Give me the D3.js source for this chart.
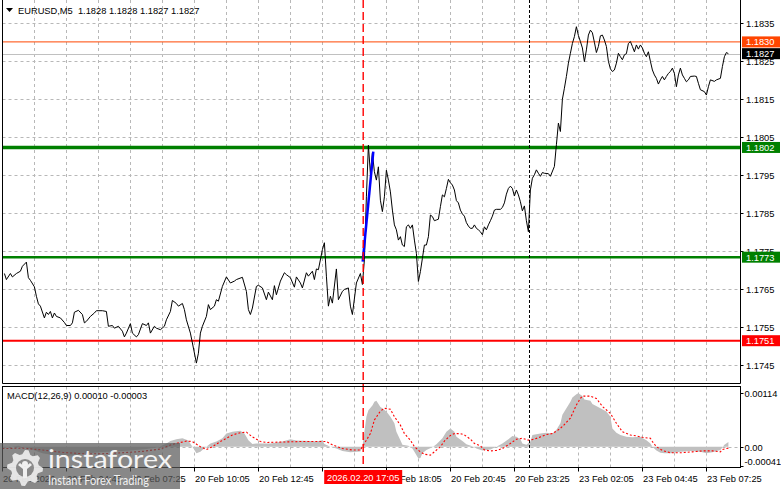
<!DOCTYPE html>
<html><head><meta charset="utf-8">
<script src="https://cdn.jsdelivr.net/npm/d3@7"></script>
<style>
html,body{margin:0;padding:0;background:#fff;overflow:hidden;}
svg{display:block;font-family:"Liberation Sans",Arial,sans-serif;}
</style></head><body>
<svg id="c" width="781" height="489"></svg>
<script>
// ---------------- DATA ----------------
const symbolTitle = "EURUSD,M5";
const ohlcNow = ["1.1828", "1.1828", "1.1827", "1.1827"];
// [bar index (5-minute bars from 20 Feb 02:05), close]
const closeSeries = [
[1,1.17691],[2,1.17675],[4,1.17691],[5,1.17682],[7,1.17691],[9,1.17697],[10,1.17710],[12,1.17721],[13,1.17680],[14,1.17673],
[16,1.17656],[17,1.17631],[18,1.17611],[19,1.17605],[21,1.17574],[22,1.17589],[23,1.17583],[24,1.17591],[25,1.17574],[26,1.17587],
[27,1.17578],[29,1.17574],[31,1.17562],[32,1.17554],[34,1.17554],[35,1.17561],[36,1.17589],[38,1.17594],[40,1.17583],[41,1.17561],
[42,1.17565],[44,1.17578],[46,1.17587],[47,1.17593],[50,1.17593],[52,1.17591],[53,1.17552],[55,1.17554],[56,1.17547],[58,1.17552],
[60,1.17539],[61,1.17524],[62,1.17534],[64,1.17559],[65,1.17534],[67,1.17524],[68,1.17530],[70,1.17559],[72,1.17554],[73,1.17561],
[74,1.17534],[76,1.17552],[77,1.17547],[79,1.17543],[81,1.17552],[82,1.17569],[84,1.17591],[85,1.17620],[87,1.17612],[88,1.17605],
[90,1.17612],[91,1.17596],[92,1.17569],[94,1.17534],[95,1.17508],[97,1.17455],[98,1.17481],[99,1.17534],[100,1.17552],[102,1.17578],
[103,1.17609],[104,1.17596],[106,1.17605],[107,1.17622],[108,1.17618],[110,1.17657],[112,1.17682],[114,1.17666],[116,1.17671],[117,1.17675],
[120,1.17681],[122,1.17644],[123,1.17596],[124,1.17583],[125,1.17600],[127,1.17657],[128,1.17660],[130,1.17653],[132,1.17622],[133,1.17642],
[135,1.17622],[136,1.17659],[137,1.17635],[139,1.17671],[141,1.17693],[142,1.17688],[144,1.17680],[146,1.17655],[147,1.17682],[149,1.17666],
[150,1.17653],[152,1.17693],[153,1.17684],[155,1.17697],[156,1.17675],[157,1.17703],[158,1.17701],[160,1.17754],[161,1.17772],[162,1.17684],
[163,1.17605],[164,1.17631],[165,1.17613],[167,1.17703],[168,1.17622],[170,1.17644],[171,1.17649],[173,1.17653],[174,1.17605],[175,1.17583],
[177,1.17666],[179,1.17691],[180,1.17662],[181,1.17727],[182,1.17893],[183,1.18029],[184,1.17954],[185,1.18009],[186,1.17959],[187,1.17937],
[188,1.17972],[189,1.17884],[190,1.17854],[191,1.17893],[192,1.17963],[193,1.17937],[194,1.17906],[195,1.17858],[196,1.17819],[197,1.17806],
[198,1.17779],[199,1.17788],[200,1.17766],[201,1.17762],[202,1.17814],[203,1.17819],[204,1.17810],[205,1.17819],[206,1.17779],[207,1.17744],
[208,1.17670],[209,1.17696],[210,1.17731],[211,1.17766],[212,1.17766],[213,1.17788],[214,1.17845],[215,1.17841],[216,1.17830],[217,1.17832],
[218,1.17834],[219,1.17867],[220,1.17898],[221,1.17893],[222,1.17915],[223,1.17939],[224,1.17930],[225,1.17924],[226,1.17911],[227,1.17883],
[228,1.17877],[229,1.17858],[230,1.17848],[231,1.17842],[232,1.17825],[233,1.17816],[234,1.17810],[235,1.17810],[236,1.17819],[237,1.17810],
[238,1.17806],[239,1.17801],[240,1.17793],[241,1.17814],[242,1.17806],[243,1.17819],[244,1.17830],[245,1.17842],[246,1.17858],[247,1.17860],
[249,1.17860],[250,1.17865],[251,1.17877],[252,1.17900],[253,1.17915],[254,1.17921],[255,1.17915],[256,1.17895],[257,1.17911],[258,1.17898],
[259,1.17880],[260,1.17856],[261,1.17869],[262,1.17830],[263,1.17801],[264,1.17911],[265,1.17942],[266,1.17951],[267,1.17964],[268,1.17955],
[269,1.17947],[270,1.17957],[271,1.17955],[273,1.17954],[274,1.17947],[276,1.17973],[277,1.18030],[278,1.18087],[279,1.18065],[280,1.18150],
[281,1.18179],[282,1.18210],[283,1.18245],[284,1.18271],[285,1.18297],[286,1.18315],[287,1.18341],[288,1.18318],[289,1.18302],[290,1.18285],
[291,1.18249],[292,1.18280],[293,1.18319],[294,1.18332],[295,1.18325],[296,1.18300],[297,1.18273],[298,1.18289],[299,1.18317],[300,1.18319],
[301,1.18306],[302,1.18289],[303,1.18250],[304,1.18230],[305,1.18223],[306,1.18227],[307,1.18245],[308,1.18271],[309,1.18262],[310,1.18254],
[311,1.18267],[312,1.18270],[313,1.18297],[314,1.18302],[315,1.18289],[316,1.18275],[317,1.18293],[318,1.18282],[319,1.18293],[320,1.18285],
[321,1.18271],[322,1.18262],[323,1.18275],[324,1.18250],[325,1.18227],[326,1.18214],[327,1.18205],[328,1.18190],[329,1.18201],[330,1.18210],
[331,1.18201],[332,1.18210],[333,1.18218],[334,1.18223],[335,1.18232],[336,1.18218],[337,1.18183],[338,1.18214],[339,1.18232],[340,1.18214],
[341,1.18205],[342,1.18196],[343,1.18201],[344,1.18210],[346,1.18211],[347,1.18210],[348,1.18192],[349,1.18175],[351,1.18170],[352,1.18161],
[353,1.18183],[354,1.18201],[356,1.18197],[357,1.18201],[359,1.18205],[360,1.18236],[361,1.18262],[362,1.18273],[363,1.18270]
];
const macdHist = [
[0,-0.00003],[8,0.00002],[14,-0.00005],[20,-0.00014],[26,-0.00018],[32,-0.00020],[40,-0.00016],[48,-0.00012],[56,-0.00010],[64,-0.00008],
[72,-0.00005],[78,-0.00001],[82,0.00007],[84,0.00012],[87,0.00016],[90,0.00018],[93,0.00013],[95,0.0],[97,-0.00014],[99,-0.00011],
[100,-0.00007],[102,0.0],[104,0.00007],[107,0.00011],[110,0.00018],[112,0.00028],[115,0.00032],[119,0.00034],[121,0.00028],[123,0.00014],
[125,0.00006],[127,0.00007],[134,0.00007],[137,0.00009],[140,0.00011],[144,0.00016],[147,0.00013],[154,0.00012],[157,0.00011],[160,0.00014],
[161,0.00006],[164,0.0],[167,-0.00004],[170,-0.00009],[174,-0.00012],[179,-0.00010],[180,0.0],[181,0.00032],[182,0.00064],[183,0.00078],
[185,0.00088],[186,0.00096],[187,0.00098],[189,0.00085],[190,0.00082],[192,0.00075],[194,0.00064],[196,0.00050],[197,0.00032],[199,0.00014],
[200,0.00004],[203,0.00002],[205,-0.00004],[206,-0.00011],[208,-0.00025],[209,-0.00024],[210,-0.00014],[212,-0.00007],[215,-0.00001],[217,0.00005],
[220,0.00018],[222,0.00032],[224,0.00039],[226,0.00032],[227,0.00021],[230,0.00012],[232,0.00005],[235,0.00001],[237,-0.00004],[240,-0.00008],
[244,-0.00006],[247,0.0],[250,0.00007],[253,0.00016],[255,0.00023],[257,0.00021],[259,0.00016],[260,0.00007],[262,0.00004],[264,0.00011],
[265,0.00025],[269,0.00028],[272,0.00030],[275,0.00028],[277,0.00036],[279,0.00050],[280,0.00068],[282,0.00082],[284,0.00096],[285,0.00105],
[287,0.00112],[288,0.00114],[290,0.00108],[291,0.00101],[294,0.00098],[295,0.00091],[299,0.00082],[302,0.00075],[304,0.00064],[305,0.00039],
[307,0.00030],[309,0.00025],[312,0.00021],[315,0.00020],[319,0.00021],[322,0.00014],[324,0.00007],[325,0.0],[327,-0.00008],[329,-0.00013],
[331,-0.00014],[334,-0.00014],[339,-0.00011],[344,-0.00009],[349,-0.00011],[352,-0.00014],[355,-0.00012],[359,-0.00007],[361,0.00004],[363,0.00010]
];
const macdSignal = [
[0,-0.00004],[10,-0.00003],[20,-0.00007],[30,-0.00012],[40,-0.00015],[50,-0.00015],[60,-0.00013],[70,-0.00010],[79,-0.00005],[85,0.00005],
[92,0.00012],[95,0.00011],[99,0.0],[102,-0.00006],[105,0.0],[109,0.00011],[115,0.00025],[119,0.00030],[122,0.00031],[125,0.00021],
[129,0.00011],[132,0.00009],[140,0.00010],[149,0.00011],[157,0.00011],[162,0.00011],[165,0.00004],[170,-0.00004],[175,-0.00007],[179,-0.00007],
[181,0.00007],[184,0.00028],[186,0.00057],[189,0.00076],[191,0.00082],[194,0.00080],[196,0.00064],[199,0.00046],[201,0.00028],[204,0.00014],
[206,0.0],[209,-0.00011],[211,-0.00016],[214,-0.00018],[216,-0.00011],[219,0.0],[221,0.00012],[224,0.00024],[226,0.00028],[229,0.00028],
[231,0.00025],[234,0.00016],[236,0.00007],[239,0.00002],[241,-0.00007],[244,-0.00009],[247,-0.00008],[250,-0.00004],[254,0.00007],[257,0.00016],
[260,0.00018],[263,0.00014],[266,0.00016],[269,0.00021],[272,0.00026],[275,0.00028],[278,0.00036],[280,0.00043],[284,0.00061],[287,0.00089],
[289,0.00103],[290,0.00108],[294,0.00108],[297,0.00103],[300,0.00086],[304,0.00071],[307,0.00050],[310,0.00032],[314,0.00025],[317,0.00023],
[320,0.00020],[324,0.00018],[325,0.00011],[327,0.0],[330,-0.00008],[334,-0.00013],[339,-0.00013],[345,-0.00011],[350,-0.00009],[355,-0.00009],
[359,-0.00011],[360,-0.00006],[363,-0.00003]
];
const macdTitle = "MACD(12,26,9)";
const macdNow = ["0.00010", "-0.00003"];
const priceTicks = [1.1745,1.1755,1.1765,1.1775,1.1785,1.1795,1.1805,1.1815,1.1825,1.1835];
const macdTicks = [0.00114, 0.00, -0.00041];
const macdTickLabels = ["0.00114", "0.00", "-0.00041"];
const timeTickBars = [0,32,64,96,128,160,192,224,256,288,320,352];
const timeTickLabels = ["20 Feb 2026","20 Feb 04:45","20 Feb 07:25","20 Feb 10:05","20 Feb 12:45","20 Feb 15:25","20 Feb 18:05","20 Feb 20:45","20 Feb 23:25","23 Feb 02:05","23 Feb 04:45","23 Feb 07:25"];
const levelValues = [1.18301, 1.18023, 1.17734, 1.17514];
const levelLabels = ["1.1830", "1.1802", "1.1773", "1.1751"];
const lastPrice = 1.1827;
const lastPriceLabel = "1.1827";
const markerBar = 180.4;
const markerLabel = "2026.02.20 17:05";
const cursorBar = 263.2;
const tradeSegment = [[180.15,1.17722],[185.45,1.18012]];

// ---------------- LAYOUT / STYLE ----------------
const svg = d3.select("#c");
const L = 2.5, R = 740.5, mainTop = 0, mainBot = 383.5, macdTop = 386.5, macdBot = 467.5;
const levelColors = ["#ff4500", "#008000", "#008000", "#ff0000"];
const levelWidths = [1, 3.5, 2.5, 2];
const gridColor = "#b8b8b8";
const FS = 9.3;

const x = d3.scaleLinear().domain([0, 363]).range([2.4, 728.4]);
const y = d3.scaleLinear().domain([1.1745, 1.1835]).range([365, 23.3]);
const ym = d3.scaleLinear().domain([0, 0.00114]).range([446.7, 393.3]);
const px = v => Math.round(v) + 0.5;

const defs = svg.append("defs");
defs.append("clipPath").attr("id","cm").append("rect").attr("x",L).attr("y",mainTop).attr("width",R-L).attr("height",mainBot-mainTop);
defs.append("clipPath").attr("id","cd").append("rect").attr("x",L).attr("y",macdTop).attr("width",R-L).attr("height",macdBot-macdTop);

// grid main
const gm = svg.append("g").attr("clip-path","url(#cm)");
const vBars = d3.range(16, 364, 16);
gm.selectAll("line.v").data(vBars).join("line")
  .attr("x1",d=>px(x(d))).attr("x2",d=>px(x(d))).attr("y1",mainTop).attr("y2",mainBot)
  .attr("stroke",gridColor).attr("stroke-dasharray","3,3");
gm.selectAll("line.h").data(priceTicks).join("line")
  .attr("x1",L).attr("x2",R).attr("y1",d=>px(y(d))).attr("y2",d=>px(y(d)))
  .attr("stroke",gridColor).attr("stroke-dasharray","3,3");
// current price line
gm.append("line").attr("x1",L).attr("x2",R).attr("y1",px(y(lastPrice))).attr("y2",px(y(lastPrice)))
  .attr("stroke","#c0c0c0");
// levels
gm.selectAll("line.lv").data(levelValues).join("line")
  .attr("x1",L).attr("x2",R).attr("y1",d=>y(d)).attr("y2",d=>y(d))
  .attr("stroke",(d,i)=>levelColors[i]).attr("stroke-width",(d,i)=>levelWidths[i]);
// price line
gm.append("path").datum(closeSeries)
  .attr("d", d3.line().x(d=>x(d[0])).y(d=>y(d[1])))
  .attr("fill","none").attr("stroke","#000").attr("stroke-width",1);
// trade segment
gm.append("path").datum(tradeSegment)
  .attr("d", d3.line().x(d=>x(d[0])).y(d=>y(d[1])))
  .attr("fill","none").attr("stroke","#0000ff").attr("stroke-width",2.5);

// MACD panel
const gd = svg.append("g").attr("clip-path","url(#cd)");
gd.selectAll("line.v").data(vBars).join("line")
  .attr("x1",d=>px(x(d))).attr("x2",d=>px(x(d))).attr("y1",macdTop).attr("y2",macdBot)
  .attr("stroke",gridColor).attr("stroke-dasharray","3,3");
gd.append("line").attr("x1",L).attr("x2",R).attr("y1",px(ym(0))).attr("y2",px(ym(0)))
  .attr("stroke",gridColor).attr("stroke-dasharray","3,3");
gd.append("path").datum(macdHist)
  .attr("d", d3.area().x(d=>x(d[0])).y0(ym(0)).y1(d=>ym(d[1])))
  .attr("fill","#c0c0c0");
gd.append("path").datum(macdSignal)
  .attr("d", d3.line().x(d=>x(d[0])).y(d=>ym(d[1])))
  .attr("fill","none").attr("stroke","#ff0000").attr("stroke-width",1.1).attr("stroke-dasharray","2,2");

// vertical marker lines
svg.append("line").attr("x1",x(markerBar)).attr("x2",x(markerBar)).attr("y1",0).attr("y2",macdBot)
  .attr("stroke","#ff0000").attr("stroke-width",1.4).attr("stroke-dasharray","8,4");
svg.append("line").attr("x1",px(x(cursorBar))).attr("x2",px(x(cursorBar))).attr("y1",0).attr("y2",macdBot)
  .attr("stroke","#000").attr("stroke-width",1).attr("stroke-dasharray","3,2");

// borders
const bc = "#000";
svg.append("path").attr("d",`M${L},${mainTop}V${mainBot}H${R}V${mainTop}`).attr("fill","none").attr("stroke",bc);
svg.append("rect").attr("x",L).attr("y",macdTop).attr("width",R-L).attr("height",macdBot-macdTop).attr("fill","none").attr("stroke",bc);

// price axis labels
const ax = svg.append("g").attr("font-size",FS).attr("fill","#000");
priceTicks.forEach(p=>{
  const yy = px(y(p));
  ax.append("line").attr("x1",R).attr("x2",R+3).attr("y1",yy).attr("y2",yy).attr("stroke","#000");
  ax.append("text").attr("x",746).attr("y",yy+3.5).text(p.toFixed(4));
});
// macd axis labels
macdTicks.forEach((v,i)=>{
  const yy = px(ym(v));
  ax.append("line").attr("x1",R).attr("x2",R+3).attr("y1",yy).attr("y2",yy).attr("stroke","#000");
  const ty = Math.min(yy, macdBot - 6);
  ax.append("text").attr("x",744.5).attr("y",ty+3.5).text(macdTickLabels[i]);
});
// level boxes
function priceBox(v, label, fill){
  const yy = y(v);
  ax.append("rect").attr("x",742).attr("y",yy-5.5).attr("width",38).attr("height",11).attr("fill",fill);
  ax.append("text").attr("x",746).attr("y",yy+3.5).attr("fill","#fff").text(label);
}
levelValues.forEach((v,i)=>priceBox(v, levelLabels[i], levelColors[i]));
priceBox(lastPrice, lastPriceLabel, "#000");

// time axis (labels fully hidden under the marker box are not drawn, as in the terminal)
const tx = svg.append("g").attr("font-size",FS);
const mx = x(markerBar);
const boxL = mx - 39, boxR = mx + 39;
timeTickBars.forEach((b,i)=>{
  const xx = px(x(b));
  tx.append("line").attr("x1",xx).attr("x2",xx).attr("y1",macdBot).attr("y2",macdBot+4).attr("stroke","#000");
  if (xx >= boxL - 2 && xx <= boxR - 40) return;
  tx.append("text").attr("x",xx+0.5).attr("y",482).attr("fill","#000").text(timeTickLabels[i]);
});
tx.append("rect").attr("x",boxL).attr("y",470).attr("width",78).attr("height",14).attr("fill","#ff0000");
tx.append("text").attr("x",mx).attr("y",481).attr("text-anchor","middle").attr("fill","#fff").text(markerLabel);

// headers
svg.append("path").attr("d","M6,8H13L9.5,12Z").attr("fill","#000");
svg.append("text").attr("x",18).attr("y",14).attr("font-size",FS).attr("fill","#000")
  .attr("xml:space","preserve").text(symbolTitle + "  " + ohlcNow.join(" "));
svg.append("text").attr("x",7).attr("y",399).attr("font-size",FS).attr("fill","#000")
  .text(macdTitle + " " + macdNow.join(" "));

// logo
const lg = svg.append("g");
lg.append("rect").attr("x",0).attr("y",443).attr("width",180).attr("height",46).attr("fill","#5a5a5a").attr("opacity",0.72);
const cx = 25, cy = 468, nT = 8;
const gearPts = [];
for (let k=0;k<nT*4;k++){
  const a = (k/(nT*4))*2*Math.PI - Math.PI/2;
  const r = (k%4===0||k%4===1) ? 18 : 14;
  gearPts.push([cx + r*Math.cos(a), cy + r*Math.sin(a)]);
}
lg.append("path").attr("d", d3.line()(gearPts)+"Z").attr("fill","#f0f0f0").attr("opacity",0.9);
lg.append("circle").attr("cx",cx).attr("cy",cy).attr("r",9).attr("fill","#8a8a8a");
lg.append("circle").attr("cx",cx).attr("cy",cy-4).attr("r",3).attr("fill","#f0f0f0");
lg.append("path").attr("d",`M${cx-7},${cy-3}L${cx-2},${cy+1}V${cy+10}H${cx+2}V${cy+1}L${cx+7},${cy-3}L${cx+5},${cy-5}L${cx},${cy-1}L${cx-5},${cy-5}Z`).attr("fill","#f0f0f0");
lg.append("text").attr("x",48).attr("y",468).attr("font-family","Lato, 'Open Sans', sans-serif").attr("font-size",25)
  .attr("fill","#f4f4f4").attr("textLength",124).attr("lengthAdjust","spacingAndGlyphs").text("instaforex");
lg.append("text").attr("x",48).attr("y",485).attr("font-family","Lato, 'Open Sans', sans-serif").attr("font-size",12.5)
  .attr("fill","#f0f0f0").attr("textLength",101).attr("lengthAdjust","spacingAndGlyphs").text("Instant Forex Trading");
</script>
</body></html>
